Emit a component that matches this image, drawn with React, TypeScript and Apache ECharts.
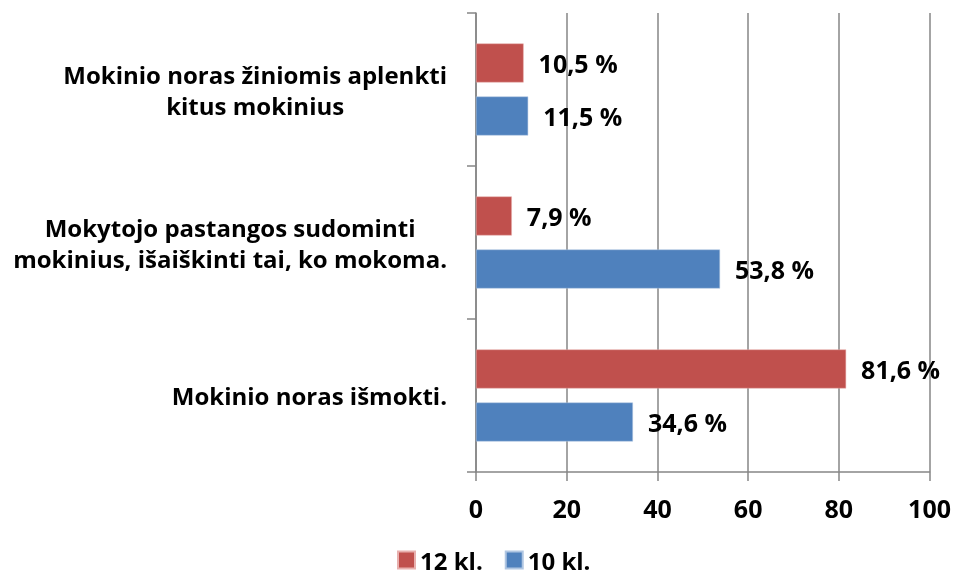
import React, { useEffect, useRef } from "react";
import * as echarts from "echarts";

const categories = [
  "Mokinio noras išmokti.",
  "Mokytojo pastangos sudominti\nmokinius, išaiškinti tai, ko mokoma.",
  "Mokinio noras žiniomis aplenkti\nkitus mokinius",
];
const seriesNames = ["12 kl.", "10 kl."];
const values12 = [81.6, 7.9, 10.5];
const values10 = [34.6, 53.8, 11.5];
const xTicks = { min: 0, max: 100, interval: 20 };

const FONT = "'Open Sans', 'DejaVu Sans', sans-serif";
const RED = "#C0504D";
const BLUE = "#4F81BD";
const GRID = "#868686";

export default function App() {
  const ref = useRef<HTMLDivElement>(null);
  useEffect(() => {
    if (!ref.current) return;
    const chart = echarts.init(ref.current, undefined, { renderer: "svg" });
    const fmt = (p: any) => p.value.toFixed(1).replace(".", ",") + " %";
    const labelStyle = {
      show: true,
      position: "right" as const,
      distance: 15,
      formatter: fmt,
      fontFamily: FONT,
      fontWeight: "bold" as const,
      fontSize: 25,
      color: "#000",
    };
    chart.setOption({
      animation: false,
      textStyle: { fontFamily: FONT },
      grid: { left: 476, right: 23, top: 13, bottom: 107, containLabel: false },
      legend: {
        data: seriesNames,
        left: 392,
        bottom: 2,
        itemWidth: 17,
        itemHeight: 17,
        itemGap: 22,
        icon: "rect",
        textStyle: { fontFamily: FONT, fontWeight: "bold", fontSize: 24, color: "#000" },
      },
      xAxis: {
        type: "value",
        min: xTicks.min,
        max: xTicks.max,
        interval: xTicks.interval,
        axisLine: { show: true, lineStyle: { color: GRID, width: 1.5 } },
        axisTick: { show: true, length: 9, inside: false, lineStyle: { color: GRID, width: 1.5 } },
        splitLine: { show: true, lineStyle: { color: GRID, width: 1.5 } },
        axisLabel: {
          margin: 23,
          fontFamily: FONT,
          fontWeight: "bold",
          fontSize: 25,
          color: "#000",
        },
      },
      yAxis: {
        type: "category",
        data: categories,
        axisLine: { show: true, lineStyle: { color: GRID, width: 1.5 } },
        axisTick: { show: true, length: 9, lineStyle: { color: GRID, width: 1.5 } },
        axisLabel: {
          margin: 29,
          formatter: (v: string) =>
            v
              .split("\n")
              .map((l) => "{c|" + l + "}")
              .join("\n"),
          rich: {
            c: {
              align: "center",
              fontFamily: FONT,
              fontWeight: "bold",
              fontSize: 24,
              lineHeight: 31,
              color: "#000",
            },
          },
        },
      },
      series: [
        {
          name: seriesNames[0],
          type: "bar",
          data: values12,
          barWidth: 39,
          barGap: "36%",
          itemStyle: { color: RED, borderColor: "#E8B0AE", borderWidth: 0.5 },
          label: labelStyle,
        },
        {
          name: seriesNames[1],
          type: "bar",
          data: values10,
          barWidth: 39,
          barGap: "36%",
          itemStyle: { color: BLUE, borderColor: "#B0C6E2", borderWidth: 0.5 },
          label: labelStyle,
        },
      ],
    });
    return () => chart.dispose();
  }, []);
  return (
    <div
      ref={ref}
      style={{ position: "fixed", left: 0, top: 0, width: 954, height: 579 }}
    />
  );
}
